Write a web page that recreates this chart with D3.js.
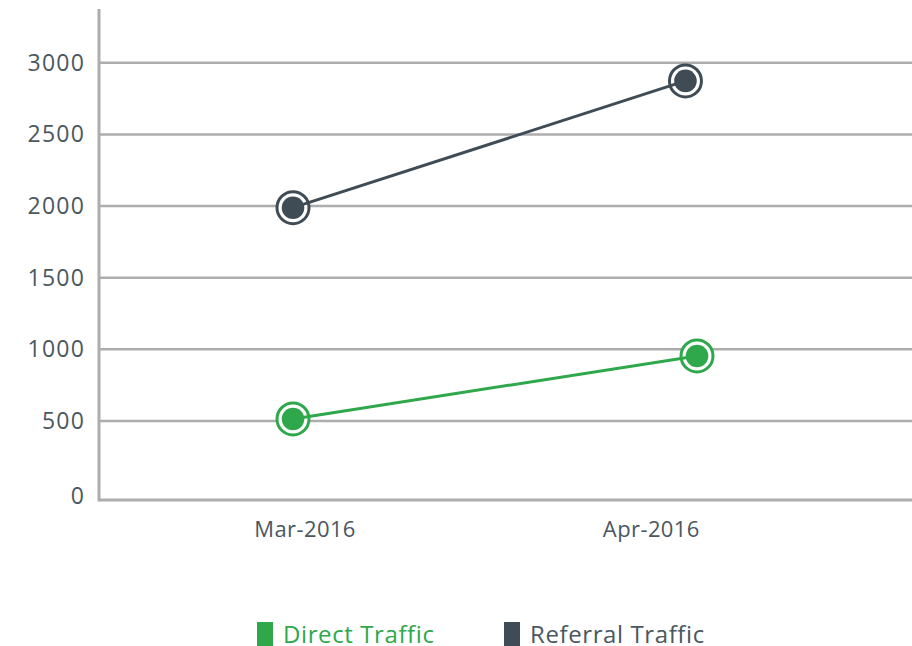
<!DOCTYPE html>
<html>
<head>
<meta charset="utf-8">
<script src="https://cdn.jsdelivr.net/npm/d3@7"></script>
<style>
  body { margin: 0; background: #fff; }
  svg { display: block; }
</style>
</head>
<body>
<div id="chart"></div>
<script>
// series data
const seriesNames = ["Direct Traffic", "Referral Traffic"];
const seriesColors = ["#2ea84b", "#404c55"];
const directDates = ["2016-03-01", "2016-04-05"];
const directValues = [510, 950];
const referralDates = ["2016-03-01", "2016-04-04"];
const referralValues = [1985, 2870];

// axis ticks
const yTicks = [0, 500, 1000, 1500, 2000, 2500, 3000];
const xTickDates = ["2016-03-02", "2016-04-01"];
const xTickLabels = ["Mar-2016", "Apr-2016"];

const width = 912;
const height = 646;
const left = 99;
const baseY = 500;
const font = "'Open Sans', 'Lato', sans-serif";
const textColor = "#4b575f";
const gridColor = "#adadad";

const parse = d3.timeParse("%Y-%m-%d");

const series = [
  {name: seriesNames[0], color: seriesColors[0],
   values: directDates.map((d, i) => ({date: parse(d), value: directValues[i]}))},
  {name: seriesNames[1], color: seriesColors[1],
   values: referralDates.map((d, i) => ({date: parse(d), value: referralValues[i]}))}
];

const allDates = series.flatMap(s => s.values.map(v => v.date));

const x = d3.scaleTime()
    .domain(d3.extent(allDates))
    .range([293, 697]);

const y = d3.scaleLinear()
    .domain([0, 3000])
    .range([492, 62.3]);

const svg = d3.select("#chart").append("svg")
    .attr("width", width)
    .attr("height", height);

// horizontal grid + y labels
svg.append("g")
    .attr("transform", `translate(${left},0)`)
    .call(d3.axisLeft(y)
        .tickValues(yTicks)
        .tickFormat(d3.format("d"))
        .tickSize(-(width - left))
        .tickPadding(14))
    .call(g => g.select(".domain").remove())
    .call(g => g.selectAll(".tick line")
        .attr("stroke", gridColor)
        .attr("stroke-width", 2.5)
        .attr("display", d => d === 0 ? "none" : null))
    .call(g => g.selectAll(".tick text")
        .attr("fill", textColor)
        .style("font", `23px ${font}`)
        .style("letter-spacing", "1.2px")
        .attr("dy", d => d === 0 ? "0.48em" : "0.35em"));

// axis lines
svg.append("line")
    .attr("x1", left).attr("x2", width)
    .attr("y1", baseY).attr("y2", baseY)
    .attr("stroke", gridColor)
    .attr("stroke-width", 3);

svg.append("line")
    .attr("x1", left).attr("x2", left)
    .attr("y1", 9).attr("y2", baseY + 1.5)
    .attr("stroke", gridColor)
    .attr("stroke-width", 3);

// x labels
svg.append("g")
    .attr("transform", `translate(0,${baseY})`)
    .call(d3.axisBottom(x)
        .tickValues(xTickDates.map(parse))
        .tickFormat((d, i) => xTickLabels[i])
        .tickSize(0)
        .tickPadding(21))
    .call(g => g.select(".domain").remove())
    .call(g => g.selectAll(".tick text")
        .attr("fill", textColor)
        .style("font", `22px ${font}`)
        .style("letter-spacing", "0.4px"));

const line = d3.line()
    .x(d => x(d.date))
    .y(d => y(d.value));

const sg = svg.append("g")
  .selectAll("g")
  .data(series)
  .join("g");

sg.selectAll("circle.ring")
  .data(d => d.values.map(v => ({...v, color: d.color})))
  .join("circle")
    .attr("class", "ring")
    .attr("cx", d => x(d.date))
    .attr("cy", d => y(d.value))
    .attr("r", 16)
    .attr("fill", "#fff")
    .attr("stroke", d => d.color)
    .attr("stroke-width", 3);

sg.append("path")
    .attr("d", d => line(d.values))
    .attr("fill", "none")
    .attr("stroke", d => d.color)
    .attr("stroke-width", 3);

sg.selectAll("circle.dot")
  .data(d => d.values.map(v => ({...v, color: d.color})))
  .join("circle")
    .attr("class", "dot")
    .attr("cx", d => x(d.date))
    .attr("cy", d => y(d.value))
    .attr("r", 11.3)
    .attr("fill", d => d.color);

// legend
const legendX = [257, 504];
const legend = svg.append("g")
  .selectAll("g")
  .data(series)
  .join("g")
    .attr("transform", (d, i) => `translate(${legendX[i]},622)`);

legend.append("rect")
    .attr("width", 16)
    .attr("height", 24)
    .attr("fill", d => d.color);

legend.append("text")
    .attr("x", 26)
    .attr("y", 21)
    .attr("fill", (d, i) => i === 0 ? d.color : textColor)
    .style("font", `24px ${font}`)
    .style("letter-spacing", "0.6px")
    .text(d => d.name);
</script>
</body>
</html>
